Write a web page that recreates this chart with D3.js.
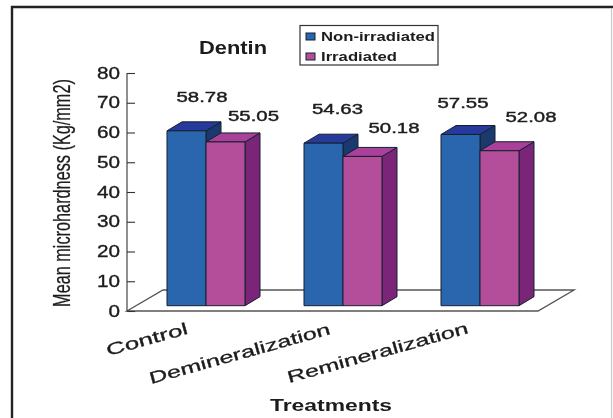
<!DOCTYPE html>
<html><head><meta charset="utf-8">
<script src="https://cdnjs.cloudflare.com/ajax/libs/d3/7.8.5/d3.min.js"></script>
<style>html,body{margin:0;padding:0;background:#fff}svg{display:block;filter:blur(.45px)}text{font-family:"Liberation Sans",Arial,sans-serif;fill:#1c1c1c}</style>
</head><body><svg id="c" width="613" height="418"></svg>
<script>
const categories = ["Control","Demineralization","Remineralization"];
const seriesNames = ["Non-irradiated","Irradiated"];
const nonIrradiated = [58.78,54.63,57.55];
const irradiated = [55.05,50.18,52.08];
const yTicks = [0,10,20,30,40,50,60,70,80];

const colors = [
 {front:"#2a66ae",top:"#27399a",side:"#1a3a6e"},
 {front:"#b44e9b",top:"#a9409a",side:"#7b2579"}
];
const svg = d3.select("#c");
const y = d3.scaleLinear().domain([0,80]).range([311,73]);
const x = d3.scaleBand().domain(categories).range([127,538]);
const inner = d3.scaleBand().domain(seriesNames).range([0,78]);
const depth = {dx:15,dy:-9}, shift = {dx:10.5,dy:-5.3}, floor = {dx:36,dy:-21};

// frame
svg.append("path").attr("d","M12,418V7H613").attr("fill","none").attr("stroke","#222").attr("stroke-width",2.4);
svg.append("path").attr("d","M611.5,8V418").attr("fill","none").attr("stroke","#c8c8c8").attr("stroke-width",1.2);

// floor
const f0=y(0), L=x.range()[0], R=x.range()[1];
svg.append("path").attr("d",`M${L},${f0}L${L+floor.dx},${f0+floor.dy}H${R+floor.dx}L${R},${f0}Z`)
  .attr("fill","#fff").attr("stroke","#555").attr("stroke-width",1.4);

// axis
const axis = d3.axisLeft(y).tickValues(yTicks).tickSize(-8).tickPadding(7);
const ag = svg.append("g").attr("transform",`translate(${L},0)`).call(axis);
ag.selectAll("path.domain").remove();
ag.append("line").attr("y1",y(80)).attr("y2",y(0)).attr("stroke","#333").attr("stroke-width",1.1);
ag.selectAll(".tick line").attr("stroke","#333").attr("stroke-width",1.1);
ag.selectAll(".tick text").attr("font-size",16).attr("fill","#1c1c1c")
  .style("font-family",'"Liberation Sans",Arial,sans-serif').attr("stroke","#1c1c1c").attr("stroke-width",.35)
  .attr("textLength",d=>d===0?11.5:23).attr("lengthAdjust","spacingAndGlyphs");

// bars
const rows = categories.map((c,i)=>[{c,s:seriesNames[0],k:0,v:nonIrradiated[i]},{c,s:seriesNames[1],k:1,v:irradiated[i]}]);
const barX = d=>x(d.c)+(x.bandwidth()-inner.range()[1])/2+shift.dx+inner(d.s);
const groups = svg.selectAll("g.grp").data(rows).join("g").attr("class","grp");
groups.each(function(row){
  const g=d3.select(this);
  row.forEach(d=>{
    const x0=barX(d), w=inner.bandwidth();
    const yT=y(d.v)+shift.dy, yB=y(0)+shift.dy, col=colors[d.k];
    const st=s=>s.attr("stroke","#14202e").attr("stroke-width",1).attr("stroke-linejoin","round");
    st(g.append("path").attr("d",`M${x0+w},${yT}l${depth.dx},${depth.dy}V${yB+depth.dy}l${-depth.dx},${-depth.dy}Z`).attr("fill",col.side));
    st(g.append("path").attr("d",`M${x0},${yT}l${depth.dx},${depth.dy}h${w}l${-depth.dx},${-depth.dy}Z`).attr("fill",col.top));
    st(g.append("rect").attr("x",x0).attr("y",yT).attr("width",w).attr("height",yB-yT).attr("fill",col.front));
  });
});

// value labels: placement nudges from the top centre of each bar
const nudgeNon = [[15.5,-29],[14,-29],[2.5,-26.5]];
const nudgeIrr = [[28,-21],[31.5,-23],[31.5,-29]];
rows.forEach((row,i)=>row.forEach(d=>{
  const n=(d.k?nudgeIrr:nudgeNon)[i];
  svg.append("text").attr("x",barX(d)+inner.bandwidth()/2+n[0]).attr("y",y(d.v)+shift.dy+n[1]).attr("text-anchor","middle")
   .attr("font-size",14.5).attr("stroke","#1c1c1c").attr("stroke-width",.4)
   .attr("textLength",51).attr("lengthAdjust","spacingAndGlyphs").text(d.v.toFixed(2));
}));

// title
svg.append("text").attr("x",233).attr("y",54).attr("text-anchor","middle").attr("font-size",17.5).attr("font-weight",700)
  .attr("textLength",68).attr("lengthAdjust","spacingAndGlyphs").text("Dentin");

// legend
svg.append("rect").attr("x",300).attr("y",25.5).attr("width",138).attr("height",39.5).attr("fill","#fff").attr("stroke","#333").attr("stroke-width",1.2);
seriesNames.forEach((n,i)=>{
  const yy=[36.5,56.5][i];
  svg.append("rect").attr("x",306).attr("y",yy-3.5).attr("width",9).attr("height",7).attr("fill",colors[i].front).attr("stroke","#14202e").attr("stroke-width",1);
  svg.append("text").attr("x",321).attr("y",yy+4.5).attr("font-size",13.5).attr("font-weight",700)
    .attr("textLength",[114,76][i]).attr("lengthAdjust","spacingAndGlyphs").text(n);
});

// axis titles
const yTitle = svg.append("text").attr("text-anchor","middle").attr("font-size",23)
  .attr("stroke","#1c1c1c").attr("stroke-width",.25).text("Mean microhardness (Kg/mm2)");
yTitle.attr("transform",`translate(70,193) rotate(-90) scale(${228/yTitle.node().getComputedTextLength()},1)`);
svg.append("text").attr("x",331).attr("y",411).attr("text-anchor","middle").attr("font-size",16.5).attr("font-weight",700)
  .attr("textLength",122).attr("lengthAdjust","spacingAndGlyphs").text("Treatments");

// category labels
const catLen=[84,187,187], catAnchor=[[108,356],[151,384],[289,383]];
categories.forEach((c,i)=>{
  svg.append("text").attr("transform",`translate(${catAnchor[i][0]},${catAnchor[i][1]}) rotate(-15.5)`)
   .attr("font-size",16.5).attr("stroke","#1c1c1c").attr("stroke-width",.3)
   .attr("textLength",catLen[i]).attr("lengthAdjust","spacingAndGlyphs").text(c);
});
</script></body></html>
